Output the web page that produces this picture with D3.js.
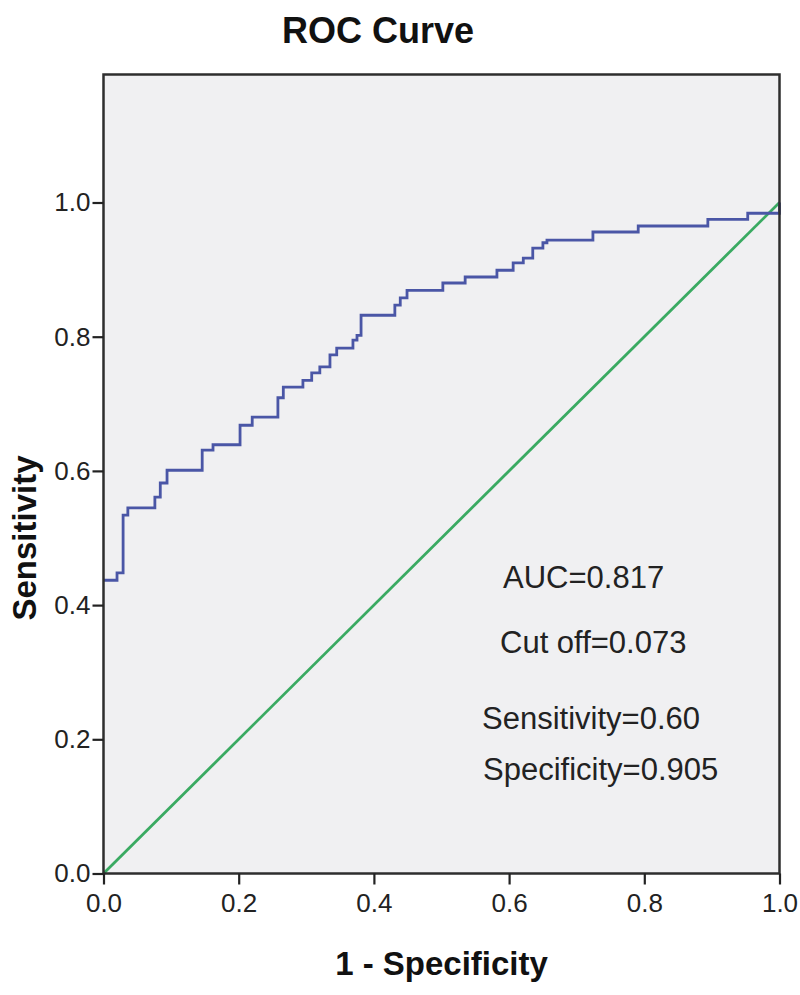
<!DOCTYPE html>
<html><head><meta charset="utf-8">
<script src="https://cdn.jsdelivr.net/npm/d3@7"></script>
<style>html,body{margin:0;padding:0;background:#fff;}svg{display:block;}</style>
</head><body>
<script>
// ROC curve vertices (1 - specificity, sensitivity), step-after
const fpr = [0, 0.020, 0.029, 0.036, 0.076, 0.084, 0.094, 0.146, 0.162, 0.202, 0.220, 0.258, 0.266, 0.295, 0.308, 0.320, 0.335, 0.345, 0.369, 0.375, 0.381, 0.431, 0.439, 0.449, 0.502, 0.535, 0.582, 0.606, 0.621, 0.635, 0.650, 0.656, 0.724, 0.791, 0.894, 0.953, 1.0];
const tpr = [0.437, 0.448, 0.534, 0.545, 0.561, 0.582, 0.601, 0.631, 0.639, 0.668, 0.680, 0.709, 0.725, 0.735, 0.746, 0.755, 0.773, 0.783, 0.795, 0.802, 0.832, 0.847, 0.858, 0.869, 0.880, 0.889, 0.899, 0.910, 0.917, 0.932, 0.940, 0.944, 0.956, 0.965, 0.975, 0.984, 1.0];
const refX = [0, 1];
const refY = [0, 1];
const tickValues = [0, 0.2, 0.4, 0.6, 0.8, 1.0];
const annotations = ["AUC=0.817", "Cut off=0.073", "Sensitivity=0.60", "Specificity=0.905"];
const chartTitle = "ROC Curve";
const xTitle = "1 - Specificity";
const yTitle = "Sensitivity";

const W = 800, H = 995;
const L = 103.5, R = 779.5, T = 74.5, B = 873.5;
const x = d3.scaleLinear().domain([0, 1]).range([L, R]);
const y = d3.scaleLinear().domain([0, 1]).range([B, 202.5]);

const svg = d3.select("body").append("svg").attr("width", W).attr("height", H);
const font = "'Liberation Sans', Arial, sans-serif";

svg.append("rect").attr("x", L).attr("y", T).attr("width", R - L).attr("height", B - T)
  .attr("fill", "#f0f0f2");

// reference diagonal
svg.append("path")
  .attr("d", d3.line().x(d => x(d[0])).y(d => y(d[1]))(refX.map((v, i) => [v, refY[i]])))
  .attr("fill", "none").attr("stroke", "#3aaa62").attr("stroke-width", 2.8);

// ROC curve
svg.append("path")
  .attr("d", d3.line().x(d => x(d[0])).y(d => y(d[1])).curve(d3.curveStepAfter)(fpr.map((v, i) => [v, tpr[i]])))
  .attr("fill", "none").attr("stroke", "#4a56a6").attr("stroke-width", 2.8);

// frame
svg.append("rect").attr("x", L).attr("y", T).attr("width", R - L).attr("height", B - T)
  .attr("fill", "none").attr("stroke", "#2e2e2e").attr("stroke-width", 2.5);

// axes
const xAxis = d3.axisBottom(x).tickValues(tickValues).tickFormat(d3.format(".1f")).tickSize(11).tickSizeOuter(0);
const gx = svg.append("g").attr("transform", `translate(0,${B})`).call(xAxis);
gx.select(".domain").remove();
gx.selectAll(".tick line").attr("stroke", "#222").attr("stroke-width", 2.2);
gx.selectAll(".tick text").attr("font-family", font).attr("font-size", 26).attr("fill", "#222").attr("dy", "0.95em").attr("y", 14);

const yAxis = d3.axisLeft(y).tickValues(tickValues).tickFormat(d3.format(".1f")).tickSize(11).tickSizeOuter(0);
const gy = svg.append("g").attr("transform", `translate(${L},0)`).call(yAxis);
gy.select(".domain").remove();
gy.selectAll(".tick line").attr("stroke", "#222").attr("stroke-width", 2.2);
gy.selectAll(".tick text").attr("font-family", font).attr("font-size", 26).attr("fill", "#222").attr("x", -13);

// titles
svg.append("text").attr("x", 378).attr("y", 43).attr("text-anchor", "middle")
  .attr("font-family", font).attr("font-weight", "bold").attr("font-size", 36).attr("fill", "#111").text(chartTitle);
svg.append("text").attr("x", x(0.5)).attr("y", 975).attr("text-anchor", "middle")
  .attr("font-family", font).attr("font-weight", "bold").attr("font-size", 33).attr("fill", "#111").text(xTitle);
svg.append("text").attr("transform", `translate(36,${y(0.5)}) rotate(-90)`).attr("text-anchor", "middle")
  .attr("font-family", font).attr("font-weight", "bold").attr("font-size", 33).attr("fill", "#111").text(yTitle);

// annotations
const annX = [503, 500, 482, 483];
const annY = [588, 653, 729, 780];
svg.selectAll("text.ann").data(annotations).enter().append("text").attr("class", "ann")
  .attr("x", (d, i) => annX[i]).attr("y", (d, i) => annY[i])
  .attr("font-family", font).attr("font-size", 31).attr("fill", "#222").text(d => d);
</script>
</body></html>
